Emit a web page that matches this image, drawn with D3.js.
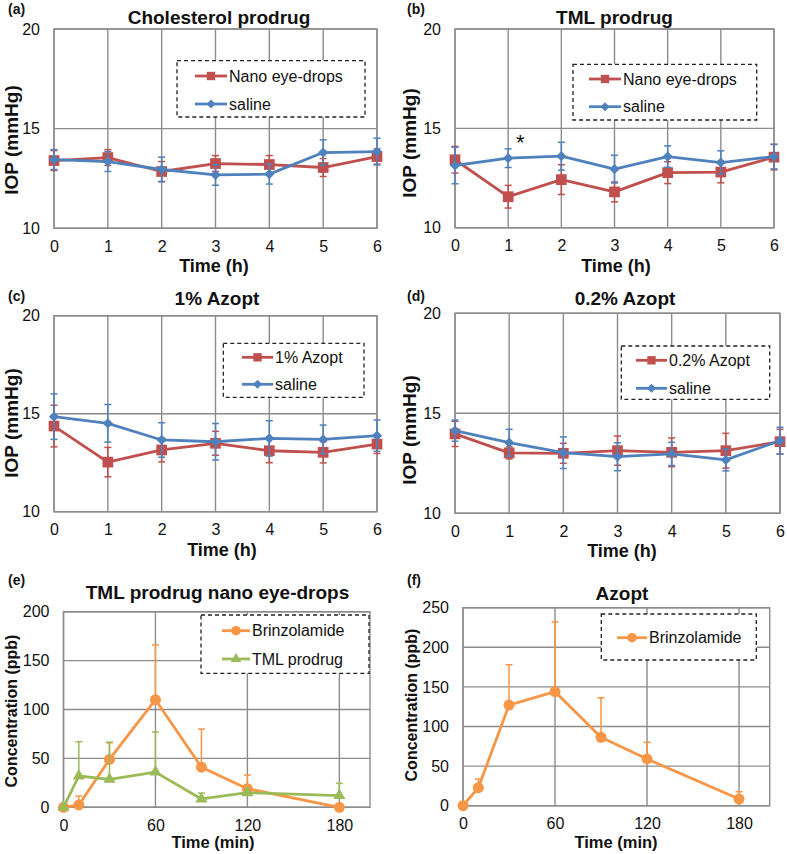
<!DOCTYPE html>
<html><head><meta charset="utf-8">
<script src="https://cdn.jsdelivr.net/npm/d3@7"></script>
<style>
body{margin:0;background:#fff}
svg{display:block}
text{font-family:"Liberation Sans",Arial,sans-serif;fill:#111}
</style>
</head><body>
<svg id="c" width="787" height="854"></svg>
<script>
// ---------- data ----------
const hours = [0, 1, 2, 3, 4, 5, 6];
const hourTicks = [0, 1, 2, 3, 4, 5, 6];
const iopTicks = [10, 15, 20];
const minutes = [0, 10, 30, 60, 90, 120, 180];
const minTicks = [0, 60, 120, 180];
const concTicksE = [0, 50, 100, 150, 200];
const concTicksF = [0, 50, 100, 150, 200, 250];

const aNano = [13.4, 13.55, 12.85, 13.25, 13.2, 13.05, 13.6];
const aNanoErr = [0.5, 0.4, 0.5, 0.4, 0.45, 0.45, 0.38];
const aSaline = [13.45, 13.35, 12.95, 12.68, 12.72, 13.8, 13.85];
const aSalineErr = [0.5, 0.5, 0.62, 0.52, 0.5, 0.64, 0.67];

const bNano = [13.42, 11.56, 12.42, 11.8, 12.77, 12.8, 13.55];
const bNanoErr = [0.67, 0.57, 0.75, 0.5, 0.55, 0.54, 0.64];
const bSaline = [13.13, 13.5, 13.6, 12.95, 13.58, 13.28, 13.58];
const bSalineErr = [0.92, 0.47, 0.7, 0.7, 0.54, 0.59, 0.62];
const bStar = [{t: 1.23, v: 14.28}];

const cAzopt = [14.37, 12.53, 13.15, 13.49, 13.11, 13.03, 13.45];
const cAzoptErr = [1.06, 0.75, 0.61, 0.61, 0.61, 0.54, 0.48];
const cSaline = [14.85, 14.51, 13.66, 13.57, 13.74, 13.69, 13.88];
const cSalineErr = [1.16, 0.96, 0.88, 0.93, 0.9, 0.73, 0.8];

const dAzopt = [13.97, 13.02, 13.0, 13.13, 13.05, 13.13, 13.58];
const dAzoptErr = [0.63, 0.3, 0.5, 0.73, 0.72, 0.87, 0.62];
const dSaline = [14.13, 13.53, 13.03, 12.83, 12.97, 12.67, 13.63];
const dSalineErr = [0.53, 0.67, 0.79, 0.7, 0.58, 0.55, 0.67];

const eBrinz = [0, 2.4, 49, 110, 41, 19, 0];
const eBrinzErr = [0, 9, 17, 56, 39, 14, 0];
const eTml = [0, 32, 28.6, 36, 8.5, 15, 12];
const eTmlErr = [0, 35, 38, 41, 6, 4, 12.5];

const fBrinz = [0, 22.7, 127, 144, 86.3, 59, 8.4];
const fBrinzErr = [0, 11, 51, 88, 50, 21, 9.3];

// ---------- styles ----------
const RED = "#C0504D", BLUE = "#4F81BD", ORANGE = "#F79646", GREEN = "#9BBB59";
const GRID = "#8c8c8c";

const svg = d3.select("#c");

function symbolPath(kind, big) {
  let t, s;
  if (kind === "square") { t = d3.symbolSquare; s = big ? 115 : 70; }
  else if (kind === "diamond") { t = d3.symbolSquare; s = big ? 52 : 40; }
  else if (kind === "circle") { t = d3.symbolCircle; s = big ? 95 : 72; }
  else { t = d3.symbolTriangle; s = big ? 64 : 48; }
  return d3.symbol().type(t).size(s)();
}
function markerTransform(kind, x, y) {
  return `translate(${x},${y})` + (kind === "diamond" ? " rotate(45)" : "");
}

function panel(cfg) {
  const g = svg.append("g");
  const x = d3.scaleLinear().domain(cfg.xDomain).range([cfg.left, cfg.right]);
  const y = d3.scaleLinear().domain(cfg.yDomain).range([cfg.bottom, cfg.top]);

  // grid
  g.append("g").selectAll("line").data(cfg.xTicks).join("line")
    .attr("x1", d => x(d)).attr("x2", d => x(d))
    .attr("y1", cfg.top).attr("y2", cfg.bottom)
    .attr("stroke", GRID).attr("stroke-width", 1.4);
  g.append("g").selectAll("line").data(cfg.yTicks).join("line")
    .attr("x1", cfg.left).attr("x2", cfg.right)
    .attr("y1", d => y(d)).attr("y2", d => y(d))
    .attr("stroke", GRID).attr("stroke-width", 1.4);
  g.append("rect").attr("x", cfg.left).attr("y", cfg.top)
    .attr("width", cfg.right - cfg.left).attr("height", cfg.bottom - cfg.top)
    .attr("fill", "none").attr("stroke", GRID).attr("stroke-width", 1.4);

  // axes labels
  const ya = g.append("g").attr("transform", `translate(${cfg.left},0)`)
    .call(d3.axisLeft(y).tickValues(cfg.yTicks).tickSize(0).tickPadding(14).tickFormat(d3.format("d")));
  ya.select(".domain").remove();
  ya.selectAll("text").attr("font-size", 16).style("font-family", '"Liberation Sans",Arial,sans-serif').attr("fill", "#111");
  const xa = g.append("g").attr("transform", `translate(0,${cfg.bottom})`)
    .call(d3.axisBottom(x).tickValues(cfg.xTicks).tickSize(0).tickPadding(12).tickFormat(d3.format("d")));
  xa.select(".domain").remove();
  xa.selectAll("text").attr("font-size", 16).style("font-family", '"Liberation Sans",Arial,sans-serif').attr("fill", "#111");

  // series
  cfg.series.forEach(s => {
    const pts = cfg.xs.map((t, i) => ({t, v: s.values[i], e: s.err[i]}));
    const eg = g.append("g").attr("stroke", s.color).attr("stroke-width", 1.5);
    pts.filter(p => p.e > 0).forEach(p => {
      const lo = s.upOnly ? p.v : p.v - p.e, hi = p.v + p.e;
      eg.append("line").attr("x1", x(p.t)).attr("x2", x(p.t)).attr("y1", y(lo)).attr("y2", y(hi));
      eg.append("line").attr("x1", x(p.t) - 3.5).attr("x2", x(p.t) + 3.5).attr("y1", y(hi)).attr("y2", y(hi));
      if (!s.upOnly) eg.append("line").attr("x1", x(p.t) - 3.5).attr("x2", x(p.t) + 3.5).attr("y1", y(lo)).attr("y2", y(lo));
    });
    g.append("path").datum(pts)
      .attr("d", d3.line().x(p => x(p.t)).y(p => y(p.v)))
      .attr("fill", "none").attr("stroke", s.color).attr("stroke-width", 2.8).attr("stroke-linejoin", "round");
    g.append("g").selectAll("path").data(pts).join("path")
      .attr("d", symbolPath(s.marker, true))
      .attr("transform", p => markerTransform(s.marker, x(p.t), y(p.v)))
      .attr("fill", s.color);
  });

  // annotations
  (cfg.notes || []).forEach(n => {
    g.append("text").attr("x", x(n.t)).attr("y", y(n.v)).attr("text-anchor", "middle")
      .attr("dominant-baseline", "central").attr("font-size", 22).attr("fill", "#333").text("*");
  });

  // legend
  const L = cfg.legend;
  g.append("rect").attr("x", L.x0).attr("y", L.y0).attr("width", L.x1 - L.x0).attr("height", L.y1 - L.y0)
    .attr("fill", "#fff").attr("stroke", "#222").attr("stroke-width", 1.3).attr("stroke-dasharray", "4,3");
  cfg.series.forEach((s, i) => {
    const ly = L.ys[i];
    g.append("line").attr("x1", L.lx0).attr("x2", L.lx1).attr("y1", ly).attr("y2", ly)
      .attr("stroke", s.color).attr("stroke-width", 2.8);
    g.append("path").attr("d", symbolPath(s.marker, false))
      .attr("transform", markerTransform(s.marker, (L.lx0 + L.lx1) / 2, ly)).attr("fill", s.color);
    g.append("text").attr("x", L.tx).attr("y", ly).attr("dominant-baseline", "central")
      .attr("font-size", 16).text(s.name);
  });

  // titles
  g.append("text").attr("x", cfg.title[1]).attr("y", cfg.title[2]).attr("text-anchor", "middle")
    .attr("font-size", 19).attr("font-weight", "bold").text(cfg.title[0]);
  g.append("text").attr("x", cfg.tag[1]).attr("y", cfg.tag[2])
    .attr("font-size", 14).attr("font-weight", "bold").text(cfg.tag[0]);
  g.append("text").attr("x", cfg.xlab[1]).attr("y", cfg.xlab[2]).attr("text-anchor", "middle")
    .attr("font-size", cfg.xlab[3]).attr("font-weight", "bold").text(cfg.xlab[0]);
  g.append("text").attr("transform", `translate(${cfg.ylab[1]},${cfg.ylab[2]}) rotate(-90)`)
    .attr("text-anchor", "middle").attr("dominant-baseline", "central")
    .attr("font-size", cfg.ylab[3]).attr("font-weight", "bold").text(cfg.ylab[0]);
}

panel({
  left: 54, right: 377, top: 29, bottom: 228.3, xDomain: [0, 6], yDomain: [10, 20],
  xTicks: hourTicks, yTicks: iopTicks, xs: hours,
  series: [
    {name: "Nano eye-drops", values: aNano, err: aNanoErr, color: RED, marker: "square"},
    {name: "saline", values: aSaline, err: aSalineErr, color: BLUE, marker: "diamond"}
  ],
  legend: {x0: 177, x1: 365, y0: 60.7, y1: 117, ys: [76, 104], lx0: 195, lx1: 227, tx: 229},
  title: ["Cholesterol prodrug", 219, 24], tag: ["(a)", 8, 14],
  xlab: ["Time (h)", 214, 272, 18], ylab: ["IOP (mmHg)", 11, 140, 19]
});
panel({
  left: 455, right: 774, top: 29, bottom: 227.7, xDomain: [0, 6], yDomain: [10, 20],
  xTicks: hourTicks, yTicks: iopTicks, xs: hours,
  series: [
    {name: "Nano eye-drops", values: bNano, err: bNanoErr, color: RED, marker: "square"},
    {name: "saline", values: bSaline, err: bSalineErr, color: BLUE, marker: "diamond"}
  ],
  notes: bStar,
  legend: {x0: 573, x1: 756.7, y0: 64.3, y1: 120, ys: [79, 106.7], lx0: 589, lx1: 621, tx: 623},
  title: ["TML prodrug", 614.5, 24], tag: ["(b)", 407, 14],
  xlab: ["Time (h)", 616, 272, 18], ylab: ["IOP (mmHg)", 409, 143, 19]
});
panel({
  left: 54, right: 377, top: 315.7, bottom: 511.7, xDomain: [0, 6], yDomain: [10, 20],
  xTicks: hourTicks, yTicks: iopTicks, xs: hours,
  series: [
    {name: "1% Azopt", values: cAzopt, err: cAzoptErr, color: RED, marker: "square"},
    {name: "saline", values: cSaline, err: cSalineErr, color: BLUE, marker: "diamond"}
  ],
  legend: {x0: 223.3, x1: 364, y0: 343.3, y1: 397.3, ys: [357.3, 384.3], lx0: 242, lx1: 273, tx: 275},
  title: ["1% Azopt", 217, 305], tag: ["(c)", 8, 301],
  xlab: ["Time (h)", 222, 555.5, 18], ylab: ["IOP (mmHg)", 11, 423, 19]
});
panel({
  left: 455, right: 780, top: 313.3, bottom: 513.3, xDomain: [0, 6], yDomain: [10, 20],
  xTicks: hourTicks, yTicks: iopTicks, xs: hours,
  series: [
    {name: "0.2% Azopt", values: dAzopt, err: dAzoptErr, color: RED, marker: "square"},
    {name: "saline", values: dSaline, err: dSalineErr, color: BLUE, marker: "diamond"}
  ],
  legend: {x0: 621.3, x1: 769.7, y0: 346, y1: 399.3, ys: [360.3, 388.3], lx0: 636, lx1: 667, tx: 669},
  title: ["0.2% Azopt", 625, 305], tag: ["(d)", 407, 301],
  xlab: ["Time (h)", 622, 557, 18], ylab: ["IOP (mmHg)", 409, 430, 19]
});
panel({
  left: 63.5, right: 370, top: 611.7, bottom: 807.3, xDomain: [0, 200], yDomain: [0, 200],
  xTicks: minTicks, yTicks: concTicksE, xs: minutes,
  series: [
    {name: "Brinzolamide", values: eBrinz, err: eBrinzErr, color: ORANGE, marker: "circle", upOnly: true},
    {name: "TML prodrug", values: eTml, err: eTmlErr, color: GREEN, marker: "triangle", upOnly: true}
  ],
  legend: {x0: 201, x1: 369, y0: 615, y1: 673.3, ys: [630.7, 659], lx0: 222, lx1: 250, tx: 252},
  title: ["TML prodrug nano eye-drops", 217.5, 599], tag: ["(e)", 8, 585],
  xlab: ["Time (min)", 213, 848, 16.5], ylab: ["Concentration (ppb)", 11, 711, 16]
});
panel({
  left: 463, right: 769.7, top: 607.7, bottom: 805.7, xDomain: [0, 200], yDomain: [0, 250],
  xTicks: minTicks, yTicks: concTicksF, xs: minutes,
  series: [
    {name: "Brinzolamide", values: fBrinz, err: fBrinzErr, color: ORANGE, marker: "circle", upOnly: true}
  ],
  legend: {x0: 601.3, x1: 756.3, y0: 614, y1: 660, ys: [637.7], lx0: 617, lx1: 647, tx: 649},
  title: ["Azopt", 622, 600], tag: ["(f)", 407, 585],
  xlab: ["Time (min)", 616, 848, 16.5], ylab: ["Concentration (ppb)", 411, 705, 16]
});
</script>
</body></html>
